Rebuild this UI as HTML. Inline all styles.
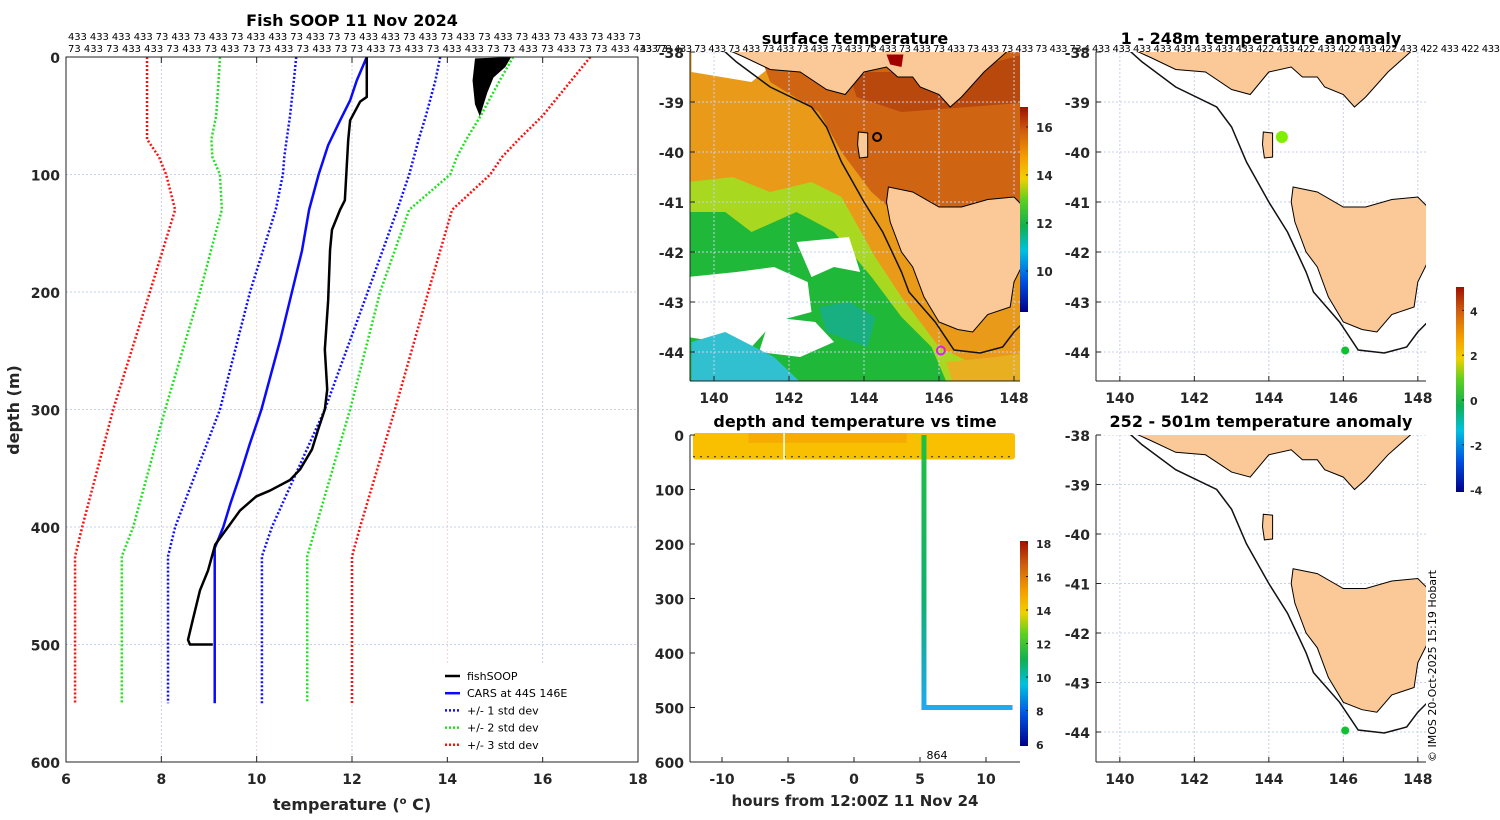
<!DOCTYPE html>
<html><head><meta charset="utf-8"><style>
body{margin:0;background:#fff;}
svg{display:block;font-family:"DejaVu Sans","Liberation Sans",sans-serif;}
.tk{font-weight:bold;font-size:14px;fill:#262626;}
.ti{font-weight:bold;font-size:16px;fill:#000;}
.hd{font-size:10px;fill:#000;}
</style></head><body>
<svg id="s" width="1500" height="820" viewBox="0 0 1500 820">
<defs>
<linearGradient id="sstcb" x1="0" y1="1" x2="0" y2="0">
<stop offset="0" stop-color="#00008a"/><stop offset="0.15" stop-color="#0050e0"/><stop offset="0.3" stop-color="#00c0e0"/><stop offset="0.42" stop-color="#10b050"/><stop offset="0.55" stop-color="#60d020"/><stop offset="0.65" stop-color="#f0d000"/><stop offset="0.75" stop-color="#f5a000"/><stop offset="0.88" stop-color="#d06010"/><stop offset="1" stop-color="#a01000"/></linearGradient>
<linearGradient id="vline" x1="0" y1="0" x2="0" y2="1"><stop offset="0" stop-color="#20c040"/><stop offset="0.6" stop-color="#10b070"/><stop offset="1" stop-color="#20a8f0"/></linearGradient>
<clipPath id="cm1"><rect x="690" y="52" width="330" height="329"/></clipPath>
<clipPath id="cm2"><rect x="1096" y="52" width="330" height="329"/></clipPath>
<clipPath id="cm3"><rect x="1096" y="435" width="330" height="327"/></clipPath>
</defs>
<g id="root"></g>
</svg>
<script>
// ---------- profile data (temperature degC, depth m) ----------
const fishT=[12.31,12.31,12.17,11.96,11.92,11.85,11.75,11.58,11.54,11.5,11.43,11.48,11.43,11.29,11.16,10.91,10.7,10.28,9.99,9.65,9.4,9.13,8.98,8.81,8.66,8.56,8.6,9.08];
const fishD=[0,34,38,54,71,122,130,147,164,207,249,283,300,317,334,351,360,369,374,386,400,415,437,454,479,496,500,500];
const carsT=[12.31,12.1,11.96,11.75,11.5,11.3,11.1,10.95,10.74,10.5,10.3,10.1,9.85,9.65,9.45,9.3,9.12,9.12];
const carsD=[0,20,37,54,75,100,130,165,200,240,270,300,330,356,380,400,418,550];
const sdDepth=[0,20,50,70,85,100,130,200,300,400,425,550];
const p1L=[10.83,10.78,10.7,10.63,10.58,10.55,10.4,9.86,9.23,8.29,8.14,8.14];
const p1R=[13.85,13.75,13.55,13.4,13.3,13.2,12.95,12.33,11.43,10.32,10.11,10.11];
const p2L=[9.23,9.2,9.15,9.05,9.07,9.23,9.27,8.81,8.08,7.41,7.17,7.17];
const p2R=[15.38,15.1,14.7,14.4,14.2,14.06,13.2,12.59,11.96,11.24,11.06,11.06];
const p3L=[7.7,7.7,7.7,7.7,7.95,8.1,8.29,7.76,6.99,6.34,6.19,6.19];
const p3R=[17.0,16.6,16.0,15.5,15.15,14.9,14.1,13.6,12.9,12.17,12.0,12.0];
const tempTicks=[6,8,10,12,14,16,18];
const depthTicks=[0,100,200,300,400,500,600];
// ---------- time series panel ----------
const hourTicks=[-10,-5,0,5,10];
const profHour=5.3, profDepth=500, endHour=12.2, startHour=-12.2, bandDepth=45;
const sstTicks=[10,12,14,16];
const tsTicks=[6,8,10,12,14,16,18];
const anomTicks=[-4,-2,0,2,4];
const lonTicks=[140,142,144,146,148];
const latTicks=[-38,-39,-40,-41,-42,-43,-44];
// ---------- geography (lon, lat) ----------
const mainland=[[139,-37],[140.2,-37.9],[140.8,-38.1],[141.5,-38.35],[142.3,-38.4],[143,-38.75],[143.5,-38.85],[144,-38.4],[144.6,-38.3],[144.9,-38.5],[145.3,-38.5],[145.5,-38.7],[146,-38.85],[146.3,-39.1],[146.6,-38.9],[147.2,-38.4],[147.8,-38.0],[148.2,-37.8],[149,-37.5],[149,-37]];
const tas=[[144.65,-40.7],[145.3,-40.8],[146,-41.1],[146.6,-41.1],[147.3,-40.95],[148.0,-40.9],[148.4,-41.2],[148.4,-42.0],[148.0,-42.6],[147.9,-43.1],[147.3,-43.25],[146.9,-43.6],[146.5,-43.55],[146.0,-43.4],[145.6,-42.9],[145.3,-42.3],[145.0,-42.0],[144.7,-41.4],[144.6,-41.0]];
const king=[[143.85,-39.6],[144.1,-39.62],[144.1,-40.1],[143.88,-40.12],[143.83,-39.85]];
const shelf=[[140.0,-37.8],[140.6,-38.2],[141.5,-38.7],[142.6,-39.1],[143.0,-39.5],[143.4,-40.2],[144,-41],[144.5,-41.6],[145,-42.4],[145.2,-42.8],[145.9,-43.4],[146.4,-43.96],[147.1,-44.02],[147.7,-43.9],[148.0,-43.6],[148.4,-43.3]];
const dotLon=[144.35,146.05], dotLat=[-39.7,-43.97];

const NS='http://www.w3.org/2000/svg';
const root=document.getElementById('root');
function E(tag,at,parent){const e=document.createElementNS(NS,tag);for(const k in at)e.setAttribute(k,at[k]);(parent||root).appendChild(e);return e;}
function T(x,y,str,cls,anchor,parent){const e=E('text',{x:x,y:y,class:cls,'text-anchor':anchor||'middle'},parent);e.textContent=str;return e;}

// ===== Left profile panel =====
const L={x0:66,x1:638,y0:57,y1:762};
const tx=t=>L.x0+(t-6)/12*(L.x1-L.x0);
const dy=d=>L.y0+d/600*(L.y1-L.y0);
const lp=E('g',{});

tempTicks.forEach((t,i)=>{if(i>0&&i<tempTicks.length-1){const g=E('line',{x1:tx(t),x2:tx(t),y1:L.y0,y2:L.y1,stroke:i%2?'#c8d0ee':'#eed4d0','stroke-dasharray':'2,2'},lp);}
 const l=T(tx(t),784,String(t),'tk','middle',lp);
 E('line',{x1:tx(t),x2:tx(t),y1:L.y1,y2:L.y1-6,stroke:'#222'},lp);E('line',{x1:tx(t),x2:tx(t),y1:L.y0,y2:L.y0+6,stroke:'#222'},lp);});
depthTicks.forEach((d,i)=>{if(i>0&&i<depthTicks.length-1){const g=E('line',{x1:L.x0,x2:L.x1,y1:dy(d),y2:dy(d),stroke:'#c8d0ee','stroke-dasharray':'2,2'},lp);}
 const l=T(60,dy(d)+6,String(d),'tk','end',lp);});
function line(ts,ds,col,w,dash,name){const pts=ts.map((t,i)=>tx(t)+','+dy(ds[i])).join(' ');const p=E('polyline',{points:pts,fill:'none',stroke:col,'stroke-width':w,'stroke-dasharray':dash||'none','stroke-linejoin':'round'},lp);}
line(p3L,sdDepth,'#ff1010',2.5,'2,2','minus-3-std-line');line(p3R,sdDepth,'#ff1010',2.5,'2,2','plus-3-std-line');
line(p2L,sdDepth,'#20e020',2.5,'2,2','minus-2-std-line');line(p2R,sdDepth,'#20e020',2.5,'2,2','plus-2-std-line');
line(p1L,sdDepth,'#1010ff',2.5,'2,2','minus-1-std-line');line(p1R,sdDepth,'#1010ff',2.5,'2,2','plus-1-std-line');
line(carsT,carsD,'#0a0aff',2.5,null,'cars-line');
line(fishT,fishD,'#000',2.5,null,'fishsoop-line');
const blob=E('polygon',{points:[[14.6,2],[15.3,1],[15.2,8],[14.95,17],[14.82,30],[14.68,48],[14.6,40],[14.55,20]].map(p=>tx(p[0])+','+dy(p[1])).join(' '),fill:'#000',stroke:'#000','stroke-width':2},lp);

E('rect',{x:L.x0,y:L.y0,width:L.x1-L.x0,height:L.y1-L.y0,fill:'none',stroke:'#222','stroke-width':1},lp);
let t1=T(352,26,'Fish SOOP 11 Nov 2024','ti');
let xa=T(352,810,'','tk');xa.setAttribute('style','font-size:16px');
xa.innerHTML='temperature (<tspan dy="-6" font-size="10">o</tspan><tspan dy="6"> C)</tspan>';
let ya=T(0,0,'depth (m)','tk');ya.setAttribute('transform','translate(19,410) rotate(-90)');ya.setAttribute('style','font-size:16px');
// legend
const lg=E('g',{});
E('rect',{x:440,y:665,width:162,height:92,fill:'#fff'},lg);
[['fishSOOP','#000',null],['CARS at 44S 146E','#0a0aff',null],['+/- 1 std dev','#1010ff','2,2'],['+/- 2 std dev','#20e020','2,2'],['+/- 3 std dev','#ff1010','2,2']].forEach((e,i)=>{const y=676+i*17.2;
 const g=E('g',{},lg);
 E('line',{x1:445,x2:460,y1:y,y2:y,stroke:e[1],'stroke-width':2.5,'stroke-dasharray':e[2]||'none'},g);
 const t=T(467,y+4,e[0],'hd','start',g);t.setAttribute('style','font-size:11px');});
// header rows
const r1='433 433 433 433 73 433 73 433 73 433 433 73 433 73 73 433 433 73 433 73 433 73 433 73 433 73 433 73 433 73';
const r2='73 433 73 433 433 73 433 73 433 73 73 433 73 433 73 73 433 73 433 73 433 433 73 73 433 73 433 73 73 433 433 73';
let h=T(68,40,r1,'hd','start');h.setAttribute('textLength','573');
h=T(68,52,r2,'hd','start');h.setAttribute('textLength','600');
h=T(640,52,'433 73 433 73 433 73 433 73 433 73 433 73 433 73 433 73 433 73 433 73 433 73 433 73 433 73 4','hd','start');h.setAttribute('textLength','450');
h=T(1092,52,'433 433 433 433 433 433 433 433 422 433 422 433 422 433 422 433 422 433 422 433','hd','start');h.setAttribute('textLength','408');

// ===== Map helper =====
function mapPanel(m,name,title,clip,sst){
 const px=lon=>m.x0+(lon-m.lon0)*m.sx, py=lat=>m.y0+(m.lat0-lat)*m.sy;
 const P=a=>a.map(p=>px(p[0]).toFixed(1)+','+py(p[1]).toFixed(1)).join(' ');
 const g=E('g',{});
 const c=E('g',{'clip-path':'url(#'+clip+')'},g);
 if(sst){
  E('rect',{x:m.x0,y:m.y0,width:m.w,height:m.h,fill:'#e89a18'},c);
  E('polygon',{points:P([[139.4,-38],[140.8,-38],[141.5,-38.3],[141,-38.6],[139.4,-38.4]]),fill:'#fff'},c);
  E('polygon',{points:P([[141.2,-38],[149,-38],[149,-41.2],[146,-41.3],[144.8,-41.2],[144.2,-40.8],[143.4,-40.0],[142.8,-39.2],[141.5,-38.6]]),fill:'#cf6412'},c);
  E('polygon',{points:P([[143.6,-38.4],[146.5,-38.4],[147.5,-38.2],[148.5,-38],[148.5,-39],[145,-39.2],[143.8,-38.9]]),fill:'#b8480c'},c);
  E('polygon',{points:P([[139.3,-40.6],[140.5,-40.5],[141.5,-40.8],[142.6,-40.6],[143.4,-40.9],[144.3,-42.1],[145.0,-42.9],[146.0,-43.9],[146.8,-44.2],[148.5,-44.0],[148.5,-44.7],[139.3,-44.7]]),fill:'#a8d820'},c);
  E('polygon',{points:P([[139.3,-41.2],[140.3,-41.2],[141.0,-41.6],[142.2,-41.2],[143.2,-41.6],[144.2,-42.5],[145.0,-43.3],[145.8,-43.9],[146.2,-44.6],[139.3,-44.7]]),fill:'#20b838'},c);
  E('polygon',{points:P([[146.2,-44.2],[147.5,-44.1],[148.5,-44.0],[148.5,-44.7],[146.4,-44.7]]),fill:'#e8b020'},c);
  E('polygon',{points:P([[139.3,-42.5],[140.6,-42.4],[141.6,-42.3],[142.5,-42.6],[142.6,-43.2],[141.6,-43.4],[141.0,-43.9],[139.3,-43.7]]),fill:'#fff'},c);
  E('polygon',{points:P([[142.2,-41.8],[143.6,-41.7],[143.9,-42.4],[143.2,-42.3],[142.6,-42.5]]),fill:'#fff'},c);
  E('polygon',{points:P([[141.5,-43.3],[142.7,-43.4],[143.2,-43.8],[142.3,-44.1],[141.2,-44.0]]),fill:'#fff'},c);
  E('polygon',{points:P([[139.4,-43.8],[140.3,-43.6],[141.6,-44.1],[142.3,-44.6],[139.4,-44.6]]),fill:'#30c0d0'},c);
  E('polygon',{points:P([[142.8,-43.1],[143.6,-43.0],[144.3,-43.3],[144.1,-43.9],[143.0,-43.6]]),fill:'#18b080'},c);
 } else {
  E('rect',{x:m.x0,y:m.y0,width:m.w,height:m.h,fill:'#fff'},c);
 }
 lonTicks.forEach(l=>{E('line',{x1:px(l),x2:px(l),y1:m.y0,y2:m.y0+m.h,stroke:'#c8d0ee','stroke-dasharray':'2,2'},c);});
 latTicks.forEach(l=>{E('line',{x1:m.x0,x2:m.x0+m.w,y1:py(l),y2:py(l),stroke:'#c8d0ee','stroke-dasharray':'2,2'},c);});
 const land=E('g',{},c);
 [mainland,tas,king].forEach(a=>E('polygon',{points:P(a),fill:'#fbc997',stroke:'#000','stroke-width':1},land));
 if(sst)E('polygon',{points:P([[144.6,-38.05],[145.05,-38.05],[145.0,-38.3],[144.7,-38.25]]),fill:'#a00000'},c);
 const sh=E('polyline',{points:P(shelf),fill:'none',stroke:'#111','stroke-width':1.5},c);
 E('line',{x1:m.x0,x2:m.x0,y1:m.y0,y2:m.y0+m.h,stroke:'#222'},g);
 E('line',{x1:m.x0,x2:m.x0+m.w,y1:m.y0+m.h,y2:m.y0+m.h,stroke:'#222'},g);
 lonTicks.forEach(l=>{const t=T(px(l),m.y0+m.h+22,String(l),'tk','middle',g);E('line',{x1:px(l),x2:px(l),y1:m.y0+m.h,y2:m.y0+m.h-5,stroke:'#222'},g);});
 latTicks.forEach(l=>{if(py(l)<=m.y0+m.h){const t=T(m.x0-6,py(l)+6,String(l),'tk','end',g);E('line',{x1:m.x0,x2:m.x0+5,y1:py(l),y2:py(l),stroke:'#222'},g);}});
 const tt=T(m.x0+m.w/2,m.y0-8,title,'ti','middle',g);
 return {g,c,px,py};
}
const m1=mapPanel({x0:690,y0:52,w:330,h:329,lon0:139.36,lat0:-38,sx:37.5,sy:50},'sst-map','surface temperature','cm1',true);
let o=E('circle',{cx:m1.px(144.35),cy:m1.py(-39.7),r:4,fill:'none',stroke:'#000','stroke-width':2},m1.c);
o=E('circle',{cx:m1.px(146.05),cy:m1.py(-43.97),r:4,fill:'none',stroke:'#e020e0','stroke-width':2},m1.c);
let cb=E('rect',{x:1020,y:107,width:8,height:205,fill:'url(#sstcb)'});
sstTicks.forEach(v=>{const y=107+(16.83-v)*24;E('line',{x1:1026,x2:1028,y1:y,y2:y,stroke:'#222'});const t=T(1036,y+5,String(v),'tk','start');t.setAttribute('style','font-size:12px');});

const m2=mapPanel({x0:1096,y0:52,w:330,h:329,lon0:139.36,lat0:-38,sx:37.25,sy:50},'anomaly-map-shallow','1 - 248m temperature anomaly','cm2',false);
o=E('circle',{cx:m2.px(dotLon[0]),cy:m2.py(dotLat[0]),r:6,fill:'#80ee00'},m2.c);
o=E('circle',{cx:m2.px(dotLon[1]),cy:m2.py(dotLat[1]),r:4,fill:'#10c030'},m2.c);
const m3=mapPanel({x0:1096,y0:435,w:330,h:327,lon0:139.36,lat0:-38,sx:37.25,sy:49.5},'anomaly-map-deep','252 - 501m temperature anomaly','cm3',false);
o=E('circle',{cx:m3.px(dotLon[1]),cy:m3.py(dotLat[1]),r:4,fill:'#10c030'},m3.c);
cb=E('rect',{x:1456,y:287,width:8,height:205,fill:'url(#sstcb)'});
anomTicks.forEach(v=>{const y=400-v*22.4;E('line',{x1:1462,x2:1464,y1:y,y2:y,stroke:'#222'});const t=T(1470,y+5,String(v),'tk','start');t.setAttribute('style','font-size:11px');});

// ===== depth vs time panel =====
const D={x0:690,y0:435,w:330,h:327};
const hx=hr=>854+hr*13.2, ddy=d=>D.y0+d/600*D.h;
const dp=E('g',{});
let band=E('rect',{x:hx(startHour),y:ddy(0)-2,width:hx(endHour)-hx(startHour),height:ddy(bandDepth)-ddy(0)+2,fill:'#f8c000',rx:3},dp);
E('rect',{x:hx(-8),y:ddy(0)-2,width:hx(4)-hx(-8),height:10,fill:'#f5ae00'},dp);
E('line',{x1:hx(startHour),x2:hx(endHour),y1:ddy(40),y2:ddy(40),stroke:'#222','stroke-dasharray':'2,5','stroke-width':1},dp);
E('line',{x1:hx(-5.3),x2:hx(-5.3),y1:ddy(0)-2,y2:ddy(bandDepth),stroke:'#fff','stroke-width':1.5},dp);
let vl=E('rect',{x:hx(profHour)-2.5,y:ddy(0),width:5,height:ddy(profDepth)-ddy(0),fill:'url(#vline)'},dp);
let hl=E('rect',{x:hx(profHour)-2.5,y:ddy(profDepth)-2.5,width:hx(endHour)-hx(profHour),height:5,fill:'#20aaf2'},dp);
E('line',{x1:D.x0,x2:D.x0,y1:D.y0,y2:D.y0+D.h,stroke:'#222'},dp);E('line',{x1:D.x0,x2:D.x0+D.w,y1:D.y0+D.h,y2:D.y0+D.h,stroke:'#222'},dp);
[0,100,200,300,400,500,600].forEach(d=>{E('line',{x1:D.x0,x2:D.x0+5,y1:ddy(d),y2:ddy(d),stroke:'#222'},dp);const t=T(D.x0-6,ddy(d)+6,String(d),'tk','end',dp);});
hourTicks.forEach(hr=>{E('line',{x1:hx(hr),x2:hx(hr),y1:D.y0+D.h,y2:D.y0+D.h-5,stroke:'#222'},dp);const t=T(hx(hr),784,String(hr),'tk','middle',dp);});
let dt=T(855,427,'depth and temperature vs time','ti','middle',dp);
dt=T(855,806,'hours from 12:00Z 11 Nov 24','tk','middle',dp);dt.setAttribute('style','font-size:15px');
dt=T(937,759,'864','hd','middle',dp);dt.setAttribute('style','font-size:11px');
cb=E('rect',{x:1020,y:541,width:8,height:205,fill:'url(#sstcb)'});
tsTicks.forEach(v=>{const y=744-(v-6)*16.75;E('line',{x1:1026,x2:1028,y1:y,y2:y,stroke:'#222'});const t=T(1036,y+5,String(v),'tk','start');t.setAttribute('style','font-size:11px');});
let cr=T(0,0,'© IMOS 20-Oct-2025 15:19 Hobart','hd','start');cr.setAttribute('transform','translate(1436,762) rotate(-90)');cr.setAttribute('style','font-size:11px');
</script>
</body></html>
